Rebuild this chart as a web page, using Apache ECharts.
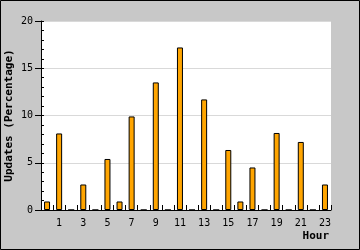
<!DOCTYPE html>
<html><head><meta charset="utf-8">
<script src="https://cdn.jsdelivr.net/npm/echarts@6/dist/echarts.min.js"></script>
<style>html,body{margin:0;padding:0;background:#c8c8c8}#c{width:360px;height:250px}</style>
</head><body><div id="c"></div>
<script>
var hours = ['0','1','2','3','4','5','6','7','8','9','10','11','12','13','14','15','16','17','18','19','20','21','22','23'];
var updates = [0.9, 8.1, 0, 2.7, 0, 5.4, 0.9, 9.9, 0, 13.5, 0, 17.2, 0, 11.7, 0, 6.35, 0.9, 4.5, 0, 8.15, 0, 7.2, 0, 2.7];
var yTicks = [0, 5, 10, 15, 20];
var font = 'DejaVu Sans Mono';
var chart = echarts.init(document.getElementById('c'), null, {renderer: 'canvas'});
chart.setOption({
  backgroundColor: '#c8c8c8',
  animation: false,
  graphic: [{type: 'rect', shape: {x: 0.5, y: 0.5, width: 359, height: 249}, style: {fill: 'none', stroke: '#000', lineWidth: 1}, silent: true}],
  grid: {left: 41, top: 21, right: 29, bottom: 40, show: true, backgroundColor: '#fff', borderWidth: 0, containLabel: false, outerBoundsMode: 'none'},
  xAxis: {
    type: 'category', data: hours, boundaryGap: true,
    name: 'Hour', nameLocation: 'end', nameGap: -2, nameMoveOverlap: false,
    nameTextStyle: {fontFamily: font, fontWeight: 'bold', fontSize: 11, color: '#000', align: 'right', verticalAlign: 'top', padding: [21, 0, 0, 0]},
    axisLine: {lineStyle: {color: '#000', width: 1}},
    axisTick: {show: true, inside: true, length: 5, interval: 0, lineStyle: {color: '#000'}},
    axisLabel: {interval: function (i) { return i % 2 === 1; }, fontFamily: font, fontSize: 10, color: '#000', margin: 8},
    splitLine: {show: false}
  },
  yAxis: [{
    type: 'value', min: yTicks[0], max: yTicks[yTicks.length - 1], interval: 5,
    name: 'Updates (Percentage)', nameLocation: 'middle', nameGap: 26, nameMoveOverlap: false,
    nameTextStyle: {fontFamily: font, fontWeight: 'bold', fontSize: 11, color: '#000'},
    axisLine: {show: true, lineStyle: {color: '#000', width: 1}},
    axisTick: {show: true, inside: false, length: 6, lineStyle: {color: '#000'}},
    axisLabel: {fontFamily: font, fontSize: 10, color: '#000', margin: 8},
    splitLine: {show: true, lineStyle: {color: '#d9d9d9', width: 1}}
  }, {
    type: 'value', min: 0, max: 20, interval: 1, position: 'left',
    axisLine: {show: false},
    axisTick: {show: true, inside: true, length: 3, lineStyle: {color: '#000'}},
    axisLabel: {show: false},
    splitLine: {show: false}
  }],
  series: [{
    type: 'bar', data: updates, barWidth: 6, yAxisIndex: 0,
    itemStyle: {color: '#ffa500', borderColor: '#000', borderWidth: 1}
  }]
});
</script></body></html>
